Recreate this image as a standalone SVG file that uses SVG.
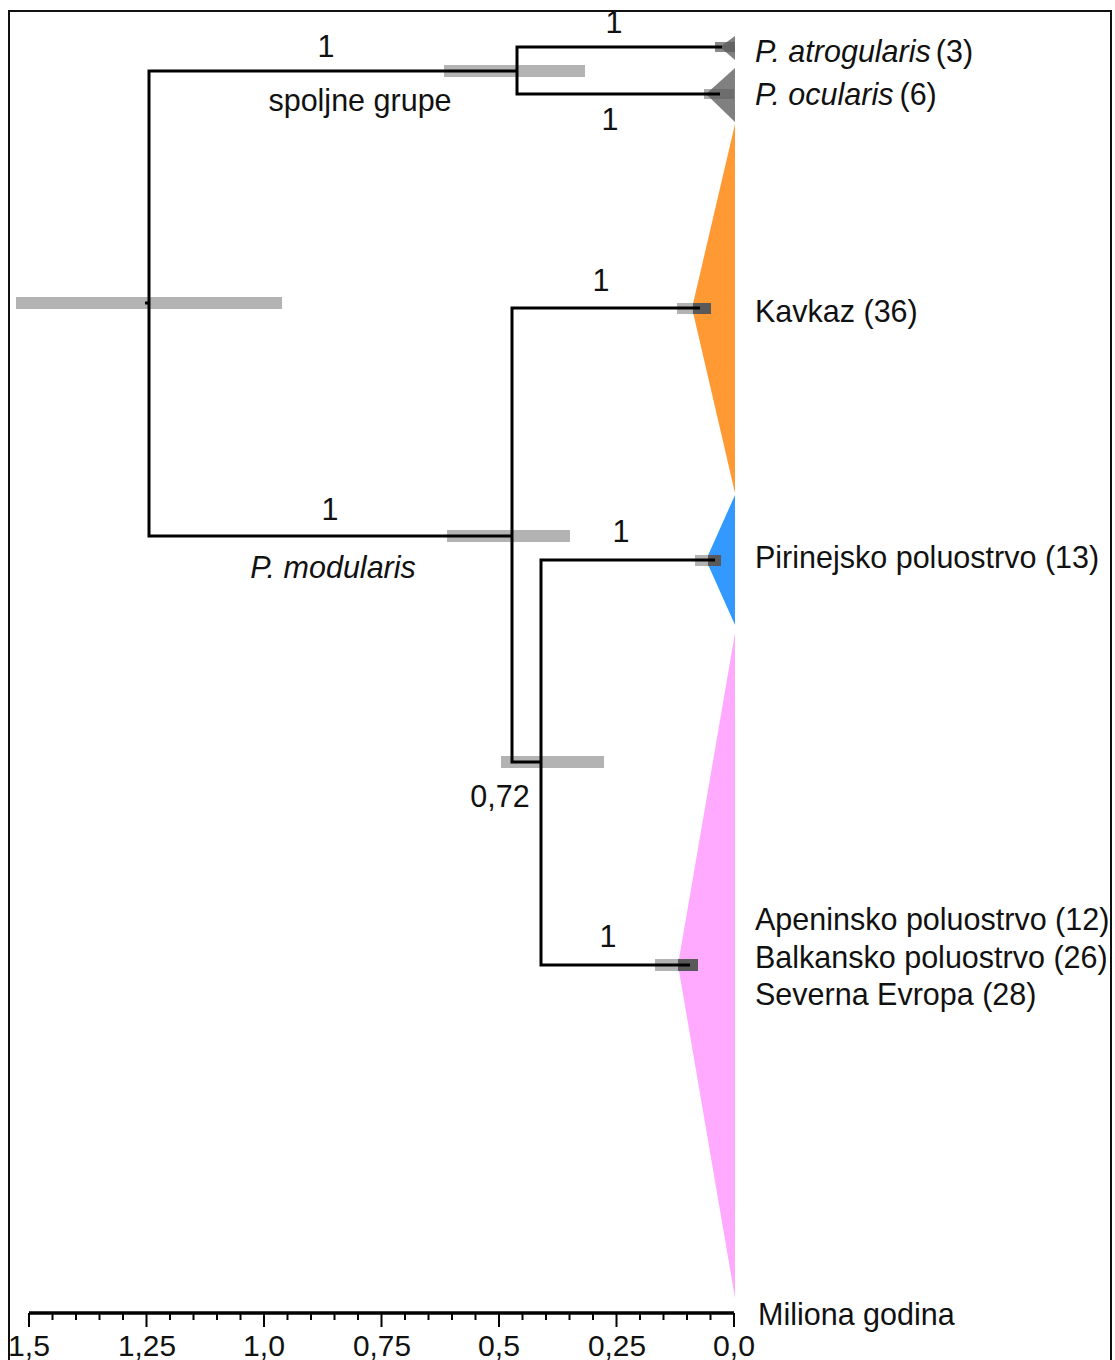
<svg xmlns="http://www.w3.org/2000/svg" width="1115" height="1360" viewBox="0 0 1115 1360">
<style>
text{font-family:"Liberation Sans",Arial,sans-serif;font-size:30.5px;fill:#111}
.it{font-style:italic}
.br{stroke:#000;stroke-width:3;fill:none}
.hpd{fill:#b3b3b3}
.tip{fill:#595959}
.tipl{fill:#b3b3b3}
.ax{stroke:#000;stroke-width:2}
.tl{font-size:30px}
</style>
<rect x="0" y="0" width="1115" height="1360" fill="#fff"/>
<path d="M9,1360 V11 H1111 V1360" fill="none" stroke="#111" stroke-width="2"/>
<g id="clades">
<g id="clade-atrogularis"><polygon points="735,36 735,60 720,47" fill="#7f7f7f"/></g>
<g id="clade-ocularis"><polygon points="735,68 735,122 706,94" fill="#808080"/></g>
<g id="clade-kavkaz"><polygon points="735,124 735,493 692,308" fill="#FF9933"/></g>
<g id="clade-pirinej"><polygon points="735,495 735,625 706,560" fill="#3399FF"/></g>
<g id="clade-ostalo"><polygon points="735,633 735,1298 678,965" fill="#FFAAFF"/></g>
</g>
<g id="hpd">
<rect class="hpd" x="16" y="297" width="266" height="12"/>
<rect class="hpd" x="444" y="65" width="141" height="12"/>
<rect class="hpd" x="447" y="530" width="123" height="12"/>
<rect class="hpd" x="501" y="756" width="103" height="12"/>
<rect class="tip" x="715" y="42" width="20" height="10" opacity="0.7"/>
<rect class="tip" x="704" y="89" width="30" height="10" opacity="0.5"/>
<rect class="tipl" x="677" y="303" width="23" height="11"/>
<rect class="tip" x="693" y="303" width="18" height="11"/>
<rect class="tipl" x="695" y="555" width="17" height="11"/>
<rect class="tip" x="708" y="555" width="13" height="11"/>
<rect class="tipl" x="655" y="959" width="25" height="12"/>
<rect class="tip" x="678" y="959" width="20" height="12"/>
</g>
<g id="connectors">
<path class="br" d="M517,71 H149 V536 H512"/>
<path class="br" d="M145,303 H149"/>
<path class="br" d="M722,47 H517 V94 H720"/>
<path class="br" d="M700,308 H512 V762 H541"/>
<path class="br" d="M715,560 H541 V965 H690"/>
</g>
<g id="labels">
<text x="326" y="57" text-anchor="middle">1</text>
<text x="360" y="111" text-anchor="middle">spoljne grupe</text>
<text x="614" y="33" text-anchor="middle">1</text>
<text x="610" y="130" text-anchor="middle">1</text>
<text x="601" y="291" text-anchor="middle">1</text>
<text x="330" y="520" text-anchor="middle">1</text>
<text x="333" y="578" text-anchor="middle" class="it">P. modularis</text>
<text x="621" y="542" text-anchor="middle">1</text>
<text x="500" y="807" text-anchor="middle">0,72</text>
<text x="608" y="947" text-anchor="middle">1</text>
</g>
<g id="tips">
<text x="755" y="62"><tspan class="it">P. atrogularis</tspan><tspan dx="5">(3)</tspan></text>
<text x="755" y="105"><tspan class="it">P. ocularis</tspan><tspan dx="6">(6)</tspan></text>
<text x="755" y="322">Kavkaz (36)</text>
<text x="755" y="568">Pirinejsko poluostrvo (13)</text>
<text x="755" y="930">Apeninsko poluostrvo (12)</text>
<text x="755" y="968">Balkansko poluostrvo (26)</text>
<text x="755" y="1005">Severna Evropa (28)</text>
</g>
<g id="axis">
<path d="M29,1313 H734" stroke="#000" stroke-width="3.5"/>
<path class="ax" d="M29,1313 v14 M146.5,1313 v14 M264,1313 v14 M381.5,1313 v14 M499,1313 v14 M616.5,1313 v14 M734,1313 v14"/>
<path class="ax" d="M52.5,1313 v7 M76,1313 v7 M99.5,1313 v7 M123,1313 v7 M170,1313 v7 M193.5,1313 v7 M217,1313 v7 M240.5,1313 v7 M287.5,1313 v7 M311,1313 v7 M334.5,1313 v7 M358,1313 v7 M405,1313 v7 M428.5,1313 v7 M452,1313 v7 M475.5,1313 v7 M522.5,1313 v7 M546,1313 v7 M569.5,1313 v7 M593,1313 v7 M640,1313 v7 M663.5,1313 v7 M687,1313 v7 M710.5,1313 v7"/>
<text class="tl" x="29" y="1356" text-anchor="middle" textLength="42" lengthAdjust="spacingAndGlyphs">1,5</text>
<text class="tl" x="147" y="1356" text-anchor="middle" textLength="58" lengthAdjust="spacingAndGlyphs">1,25</text>
<text class="tl" x="264" y="1356" text-anchor="middle" textLength="42" lengthAdjust="spacingAndGlyphs">1,0</text>
<text class="tl" x="382" y="1356" text-anchor="middle" textLength="58" lengthAdjust="spacingAndGlyphs">0,75</text>
<text class="tl" x="499" y="1356" text-anchor="middle" textLength="42" lengthAdjust="spacingAndGlyphs">0,5</text>
<text class="tl" x="617" y="1356" text-anchor="middle" textLength="58" lengthAdjust="spacingAndGlyphs">0,25</text>
<text class="tl" x="734" y="1356" text-anchor="middle" textLength="42" lengthAdjust="spacingAndGlyphs">0,0</text>
<text x="758" y="1325">Miliona godina</text>
</g>
</svg>
